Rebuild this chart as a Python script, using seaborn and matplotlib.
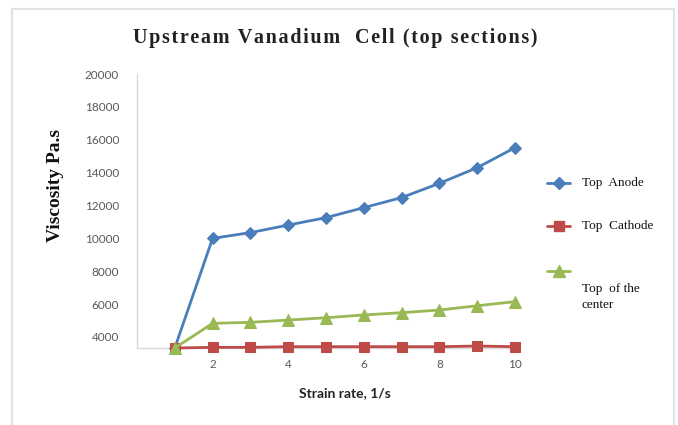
import matplotlib
matplotlib.use("Agg")
import matplotlib.pyplot as plt
import seaborn as sns
import pandas as pd
from matplotlib.patches import Rectangle
from matplotlib.lines import Line2D

strain_rate = [1, 2, 3, 4, 5, 6, 7, 8, 9, 10]
top_anode = [3330, 10000, 10350, 10810, 11260, 11870, 12480, 13350, 14300, 15520]
top_cathode = [3330, 3370, 3370, 3410, 3410, 3410, 3410, 3410, 3450, 3410]
top_center = [3330, 4830, 4890, 5030, 5170, 5340, 5480, 5640, 5900, 6150]
series_names = ["Top  Anode", "Top  Cathode", "Top  of the\ncenter"]
colors = ["#4a7ebb", "#be4b48", "#98b954"]
markers = ["D", "s", "^"]
x_ticks = [2, 4, 6, 8, 10]
y_ticks = [4000, 6000, 8000, 10000, 12000, 14000, 16000, 18000, 20000]
title = "Upstream Vanadium  Cell (top sections)"

df = pd.DataFrame({
    "x": strain_rate * 3,
    "y": top_anode + top_cathode + top_center,
    "series": sum([[n] * len(strain_rate) for n in series_names], []),
})

sns.set_theme(style="white")
fig = plt.figure(figsize=(6.78, 4.25), dpi=100)
ax = fig.add_axes([137 / 678, 1 - 348 / 425, (515 - 137) / 678, (348 - 74) / 425])

sizes = [6, 7, 8]
for name, c, m, s in zip(series_names, colors, markers, sizes):
    sub = df[df["series"] == name]
    sns.lineplot(data=sub, x="x", y="y", ax=ax, color=c, marker=m, markersize=s,
                 markeredgecolor=c, linewidth=2, clip_on=False, legend=False,
                 zorder=3)

ax.set_xlim(0, 10)
ax.set_ylim(3330, 20000)
ax.set_xticks(x_ticks)
ax.set_yticks(y_ticks)
ax.tick_params(axis="both", length=0, labelsize=8.5, labelcolor="#595959")
for lab in ax.get_xticklabels() + ax.get_yticklabels():
    lab.set_family("Lato")
ax.tick_params(axis="y", pad=13)
ax.tick_params(axis="x", pad=8)
for side in ["top", "right"]:
    ax.spines[side].set_visible(False)
for side in ["left", "bottom"]:
    ax.spines[side].set_color("#d9d9d9")
    ax.spines[side].set_linewidth(1)
ax.set_xlabel("")
ax.set_ylabel("")

spaced_title = "\u200a".join(title)
fig.text(335 / 678, 1 - 38 / 425, spaced_title,
         family=["Liberation Serif", "DejaVu Serif"], weight="bold", fontsize=14.5,
         ha="center", va="center", color="#222222")
fig.text(56 / 678, 1 - 186 / 425, "Viscosity Pa.s", rotation=90,
         family="Liberation Serif", weight="bold", fontsize=14,
         ha="center", va="center", color="#111111")
fig.text(345 / 678, 1 - 393 / 425, "Strain rate, 1/s", family="Lato",
         weight="bold", fontsize=10, ha="center", va="center", color="#222222")

# legend
leg_y = [183, 226, 271]
for name, c, m, s, y in zip(series_names, colors, markers, sizes, leg_y):
    fig.add_artist(Line2D([547 / 678, 570 / 678], [1 - y / 425, 1 - y / 425],
                          color=c, linewidth=2, transform=fig.transFigure))
    fig.add_artist(Line2D([558.5 / 678], [1 - y / 425], color=c, marker=m,
                          markersize=s, markeredgecolor=c, linestyle="none",
                          transform=fig.transFigure))
fig.text(582 / 678, 1 - 183 / 425, series_names[0], family="Liberation Serif",
         fontsize=9.5, ha="left", va="center", color="#111111")
fig.text(582 / 678, 1 - 226 / 425, series_names[1], family="Liberation Serif",
         fontsize=9.5, ha="left", va="center", color="#111111")
fig.text(582 / 678, 1 - 297 / 425, series_names[2], family="Liberation Serif",
         fontsize=9.5, ha="left", va="center", color="#111111", linespacing=1.5)

# chart area border
fig.add_artist(Rectangle((12 / 678, -0.05), (674 - 12) / 678, 1.05 - 9 / 425,
                         transform=fig.transFigure, fill=False,
                         edgecolor="#e3e3e3", linewidth=1.5))

fig.savefig("out.png", dpi=100, facecolor="white")
